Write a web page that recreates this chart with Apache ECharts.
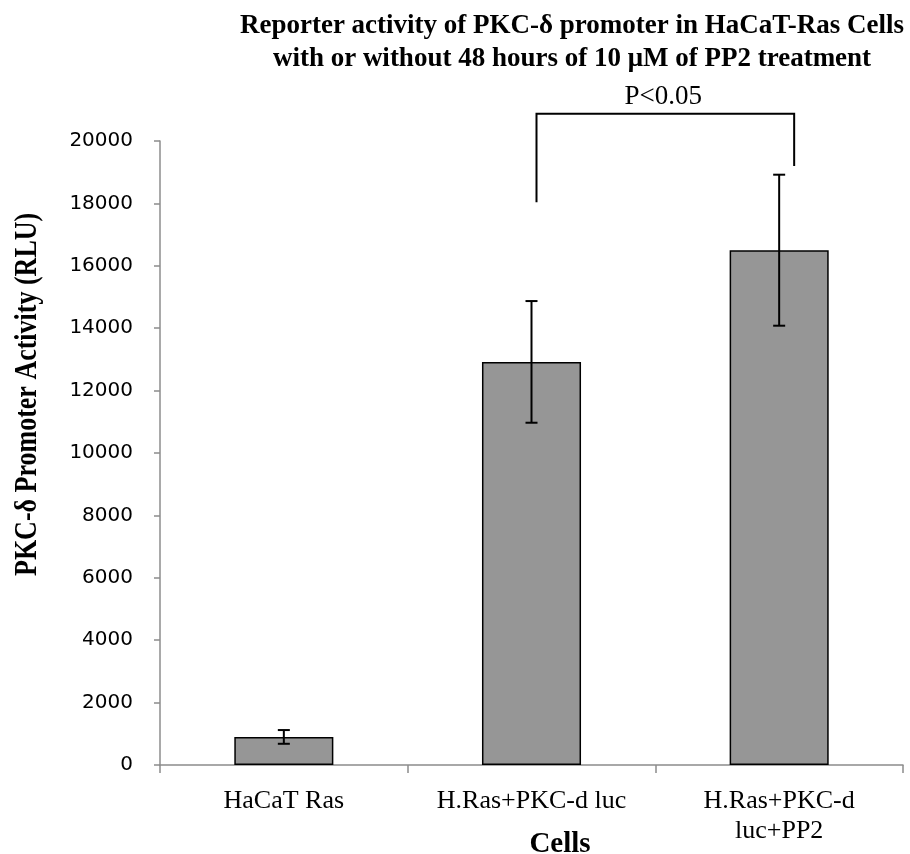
<!DOCTYPE html>
<html>
<head>
<meta charset="utf-8">
<script src="https://cdn.jsdelivr.net/npm/echarts@6/dist/echarts.min.js"></script>
<style>
  html, body { margin: 0; padding: 0; background: #fff; }
  #chart { width: 910px; height: 854px; }
</style>
</head>
<body>
<div id="chart"></div>
<script>
// Reporter assay: PKC-δ promoter activity (RLU), mean ± error
const categories = ['HaCaT Ras', 'H.Ras+PKC-d luc', 'H.Ras+PKC-d\nluc+PP2'];
const means = [900, 12920, 16500];
const errors = [220, 1950, 2420];

// Significance bracket between the 2nd and 3rd groups
const bracketGroups = [1, 2];
const bracketTop = 20870;
const bracketEnds = [18040, 19200];
const bracketLabel = 'P<0.05';

const yTicks = { min: 0, max: 20000, interval: 2000 };

const serif = '"Liberation Serif", "Times New Roman", serif';
const sans = '"DejaVu Sans", sans-serif';

const chart = echarts.init(document.getElementById('chart'), null, { renderer: 'canvas' });

const errorData = means.map((m, i) => [i, m - errors[i], m + errors[i]]);

chart.setOption({
  animation: false,
  backgroundColor: '#ffffff',
  title: {
    text: 'Reporter activity of PKC-δ promoter in HaCaT-Ras Cells\nwith or without 48 hours of 10 μM of PP2 treatment',
    left: 567,
    top: 5,
    textAlign: 'center',
    textStyle: {
      fontFamily: serif,
      fontWeight: 'bold',
      fontSize: 27,
      lineHeight: 33,
      color: '#000'
    }
  },
  grid: { left: 160, right: 7, top: 141, bottom: 89 },
  xAxis: {
    type: 'category',
    data: categories,
    axisLine: { lineStyle: { color: '#8c8c8c', width: 1.5 } },
    axisTick: { show: true, length: 8, lineStyle: { color: '#8c8c8c', width: 1.5 } },
    axisLabel: {
      fontFamily: serif,
      fontSize: 26,
      lineHeight: 30,
      color: '#000',
      margin: 21
    }
  },
  yAxis: {
    type: 'value',
    min: yTicks.min,
    max: yTicks.max,
    interval: yTicks.interval,
    splitLine: { show: false },
    axisLine: { show: true, lineStyle: { color: '#8c8c8c', width: 1.5 } },
    axisTick: { show: true, length: 6, lineStyle: { color: '#8c8c8c', width: 1.5 } },
    axisLabel: {
      fontFamily: sans,
      fontSize: 20,
      color: '#000',
      margin: 27,
      formatter: function (v) { return String(v); }
    }
  },
  graphic: [
    {
      type: 'text',
      x: 12,
      y: 576,
      rotation: Math.PI / 2,
      scaleY: 1.2,
      style: {
        text: 'PKC-δ Promoter Activity (RLU)',
        fontFamily: serif,
        fontWeight: 'bold',
        fontSize: 26,
        fill: '#000',
        align: 'left',
        verticalAlign: 'top'
      }
    },
    {
      type: 'text',
      x: 560,
      y: 845,
      style: {
        text: 'Cells',
        fontFamily: serif,
        fontWeight: 'bold',
        fontSize: 29,
        fill: '#000',
        align: 'center',
        verticalAlign: 'middle'
      }
    }
  ],
  series: [
    {
      type: 'bar',
      data: means,
      barWidth: '40%',
      itemStyle: { color: '#969696', borderColor: '#000', borderWidth: 1.5 }
    },
    {
      type: 'custom',
      data: errorData,
      z: 5,
      renderItem: function (params, api) {
        const lo = api.coord([api.value(0), api.value(1)]);
        const hi = api.coord([api.value(0), api.value(2)]);
        const half = 6;
        const style = { stroke: '#000', lineWidth: 2 };
        return {
          type: 'group',
          children: [
            { type: 'line', shape: { x1: hi[0], y1: hi[1], x2: lo[0], y2: lo[1] }, style: style },
            { type: 'line', shape: { x1: hi[0] - half, y1: hi[1], x2: hi[0] + half, y2: hi[1] }, style: style },
            { type: 'line', shape: { x1: lo[0] - half, y1: lo[1], x2: lo[0] + half, y2: lo[1] }, style: style }
          ]
        };
      }
    },
    {
      type: 'custom',
      data: [[bracketGroups[0], bracketGroups[1], bracketTop, bracketEnds[0], bracketEnds[1]]],
      clip: false,
      z: 6,
      renderItem: function (params, api) {
        const a = api.coord([api.value(0), api.value(2)]);
        const b = api.coord([api.value(1), api.value(2)]);
        const aEnd = api.coord([api.value(0), api.value(3)]);
        const bEnd = api.coord([api.value(1), api.value(4)]);
        const xa = a[0] + 5, xb = b[0] + 15;
        const style = { stroke: '#000', lineWidth: 2, fill: null };
        return {
          type: 'group',
          children: [
            {
              type: 'polyline',
              shape: { points: [[xa, aEnd[1]], [xa, a[1]], [xb, b[1]], [xb, bEnd[1]]] },
              style: style
            },
            {
              type: 'text',
              x: (xa + xb) / 2 - 2,
              y: a[1] - 3,
              style: {
                text: bracketLabel,
                fontFamily: serif,
                fontSize: 27,
                fill: '#000',
                align: 'center',
                verticalAlign: 'bottom'
              }
            }
          ]
        };
      }
    }
  ]
});
</script>
</body>
</html>
